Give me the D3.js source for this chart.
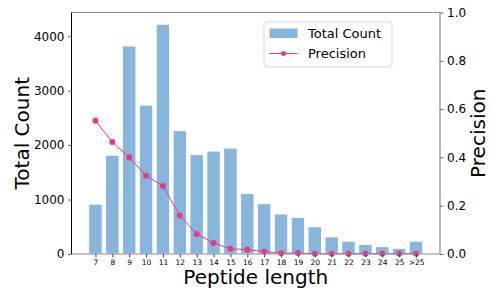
<!DOCTYPE html>
<meta charset="utf-8">
<style>
body { margin: 0; background: #fff; }
svg { display: block; font-family: "DejaVu Sans", sans-serif; }
</style>
<body>
<script src="https://d3js.org/d3.v7.min.js"></script>
<script>
'use strict';

// chart values
const lengths = ["7", "8", "9", "10", "11", "12", "13", "14", "15", "16",
                 "17", "18", "19", "20", "21", "22", "23", "24", "25", ">25"];
const totalCount = [915, 1815, 3820, 2735, 4220, 2265, 1825, 1890, 1945, 1110,
                    925, 735, 670, 500, 315, 235, 175, 135, 105, 235];
const precision = [0.552, 0.464, 0.400, 0.324, 0.282, 0.159, 0.083, 0.046, 0.022, 0.018,
                   0.010, 0.003, 0.004, 0.001, 0.001, 0.001, 0.001, 0.001, 0.001, 0.001];
const countTicks = [0, 1000, 2000, 3000, 4000];
const precTicks = [0, 0.2, 0.4, 0.6, 0.8, 1.0];

const W = 498, H = 299;
const plotLeft = 71.5, plotRight = 440, plotTop = 12.5, plotBottom = 254;
const barColor = "#88b5db", lineColor = "#e8388a", spineGray = "#8a8a8a";

const svg = d3.select("body").append("svg")
    .attr("width", W).attr("height", H);

const x = d3.scaleLinear().domain([-1.42, lengths.length - 1 + 1.42]).range([plotLeft, plotRight]);
const yCount = d3.scaleLinear().domain([0, 4435]).range([plotBottom, plotTop]);
const yPrec = d3.scaleLinear().domain([0, 1]).range([plotBottom, plotTop]);
const barW = x(0.8) - x(0);

// bars
svg.append("g").selectAll("rect")
    .data(totalCount)
  .enter().append("rect")
    .attr("x", (d, i) => x(i) - barW / 2)
    .attr("y", d => yCount(d))
    .attr("width", barW)
    .attr("height", d => yCount(0) - yCount(d))
    .attr("fill", barColor)
    .attr("stroke", "#fff")
    .attr("stroke-width", 1);

// precision line
const line = d3.line()
    .x((d, i) => x(i))
    .y(d => yPrec(d));
svg.append("path")
    .datum(precision)
    .attr("d", line)
    .attr("fill", "none")
    .attr("stroke", lineColor)
    .attr("stroke-width", 1);
svg.append("g").selectAll("circle")
    .data(precision)
  .enter().append("circle")
    .attr("cx", (d, i) => x(i))
    .attr("cy", d => yPrec(d))
    .attr("r", 3)
    .attr("fill", lineColor);

// spines
svg.append("line").attr("x1", plotLeft).attr("x2", plotRight).attr("y1", plotTop).attr("y2", plotTop)
    .attr("stroke", spineGray).attr("stroke-width", 1.2);
svg.append("line").attr("x1", plotLeft).attr("x2", plotRight).attr("y1", plotBottom).attr("y2", plotBottom)
    .attr("stroke", spineGray).attr("stroke-width", 1.2);
svg.append("line").attr("x1", plotRight).attr("x2", plotRight).attr("y1", plotTop).attr("y2", plotBottom)
    .attr("stroke", spineGray).attr("stroke-width", 1.2);
svg.append("line").attr("x1", plotLeft).attr("x2", plotLeft).attr("y1", plotTop).attr("y2", plotBottom)
    .attr("stroke", "#000").attr("stroke-width", 1);

// x axis
const xAxis = d3.axisBottom(x)
    .tickValues(d3.range(lengths.length))
    .tickFormat(i => lengths[i])
    .tickSize(3.5).tickPadding(2);
const gx = svg.append("g").attr("transform", `translate(0,${plotBottom})`).call(xAxis);
gx.select(".domain").remove();
gx.selectAll("text").attr("font-size", 7.5).attr("fill", "#000").attr("font-family", "DejaVu Sans");
gx.selectAll("line").attr("stroke", "#444");

// left axis
const yAxisL = d3.axisLeft(yCount).tickValues(countTicks).tickFormat(d3.format("d"))
    .tickSize(3.5).tickPadding(3.5);
const gl = svg.append("g").attr("transform", `translate(${plotLeft},0)`).call(yAxisL);
gl.select(".domain").remove();
gl.selectAll("text").attr("font-size", 12).attr("fill", "#000").attr("font-family", "DejaVu Sans");
gl.selectAll("line").attr("stroke", "#666");

// right axis
const yAxisR = d3.axisRight(yPrec).tickValues(precTicks).tickFormat(d3.format(".1f"))
    .tickSize(3.5).tickPadding(3.5);
const gr = svg.append("g").attr("transform", `translate(${plotRight},0)`).call(yAxisR);
gr.select(".domain").remove();
gr.selectAll("text").attr("font-size", 12).attr("fill", "#000").attr("font-family", "DejaVu Sans");
gr.selectAll("line").attr("stroke", "#666");

// axis labels
svg.append("text")
    .attr("x", (plotLeft + plotRight) / 2).attr("y", 284)
    .attr("text-anchor", "middle").attr("font-size", 20)
    .text("Peptide length");
svg.append("text")
    .attr("transform", `translate(29,${(plotTop + plotBottom) / 2}) rotate(-90)`)
    .attr("text-anchor", "middle").attr("font-size", 20)
    .text("Total Count");
svg.append("text")
    .attr("transform", `translate(485,${(plotTop + plotBottom) / 2}) rotate(-90)`)
    .attr("text-anchor", "middle").attr("font-size", 20)
    .text("Precision");

// legend
const lg = svg.append("g").attr("transform", "translate(264,22)");
lg.append("rect")
    .attr("width", 128).attr("height", 45).attr("rx", 3)
    .attr("fill", "#fff").attr("fill-opacity", 0.8)
    .attr("stroke", "#d6d6d6").attr("stroke-width", 1);
lg.append("rect")
    .attr("x", 5.5).attr("y", 6.5).attr("width", 28).attr("height", 9.5)
    .attr("fill", barColor);
lg.append("text").attr("x", 44).attr("y", 16).attr("font-size", 13).text("Total Count");
lg.append("line")
    .attr("x1", 5.5).attr("x2", 33.5).attr("y1", 31.5).attr("y2", 31.5)
    .attr("stroke", lineColor).attr("stroke-width", 1);
lg.append("circle").attr("cx", 19.5).attr("cy", 31.5).attr("r", 2.5).attr("fill", lineColor);
lg.append("text").attr("x", 44).attr("y", 36).attr("font-size", 13).text("Precision");
</script>
</body>
